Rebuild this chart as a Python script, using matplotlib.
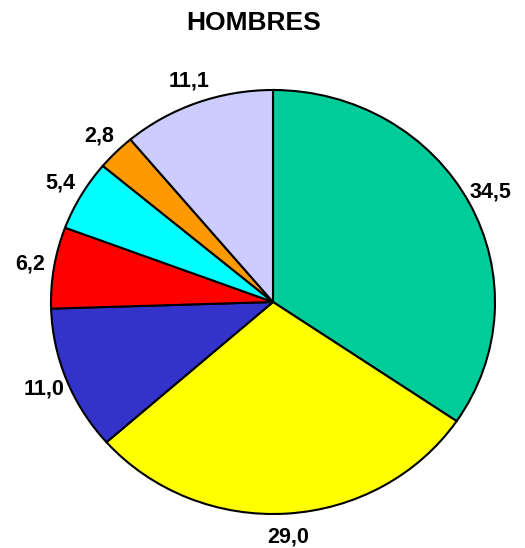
import matplotlib
matplotlib.use('Agg')
import matplotlib.pyplot as plt

values = [34.5, 29.0, 11.0, 6.2, 5.4, 2.8, 11.1]
labels = ['34,5', '29,0', '11,0', '6,2', '5,4', '2,8', '11,1']
colors = ['#00CC99', '#FFFF00', '#3333CC', '#FF0000', '#00FFFF', '#FF9900', '#CCCCFF']

plt.rcParams['font.family'] = ['Liberation Sans', 'DejaVu Sans']

fig = plt.figure(figsize=(5.25, 5.48), dpi=100)
# pie is slightly wider than tall in the original
ax = fig.add_axes([51 / 525, 34 / 548, 444 / 525, 424 / 548])
wedges, texts = ax.pie(values, labels=labels, colors=colors, startangle=90,
                       counterclock=False, labeldistance=1.11,
                       wedgeprops={'edgecolor': 'black', 'linewidth': 1.5},
                       textprops={'fontsize': 15.5, 'fontweight': 'bold'})
for t in texts:
    t.set_horizontalalignment('center')
ax.set_aspect('auto')
ax.set_xlim(-1, 1)
ax.set_ylim(-1, 1)

fig.text(254 / 525, 1 - 23 / 548, 'HOMBRES', ha='center', va='center',
         fontsize=19, fontweight='bold')

fig.savefig('out.png', dpi=100)
